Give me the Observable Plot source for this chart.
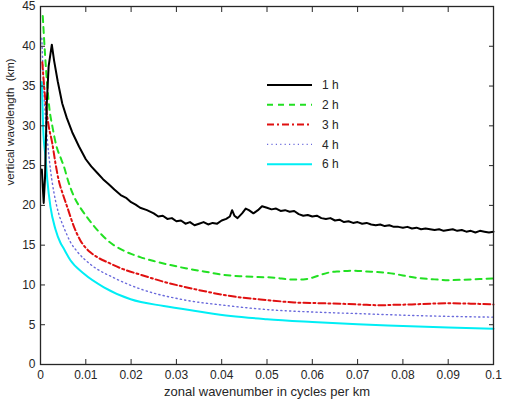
<!DOCTYPE html>
<html><head><meta charset="utf-8">
<script src="https://cdn.jsdelivr.net/npm/d3@7"></script>
<script src="https://cdn.jsdelivr.net/npm/@observablehq/plot@0.6"></script>
<style>
body{margin:0;background:#fff;}
#wrap{position:relative;width:515px;height:405px;}
#legend{position:absolute;left:0;top:0;}
</style>
</head><body><div id="wrap"></div>
<script>
const seriesNames = ["1 h","2 h","3 h","4 h","6 h"];
const seriesColors = ["#000000","#22e022","#e01010","#6b6bdc","#00eef5"];
const seriesDash = [null,"6,5","7,3,2,3","1.2,3.2",null];
const seriesWidth = [2,2,2,1.4,2];
const xLabel = "zonal wavenumber in cycles per km";
const yLabel = "vertical wavelength  (km)";

const k1h = [0.0003,0.0007,0.0010,0.0014,0.0018,0.0025,0.0030,0.0038,0.0048,0.0058,0.0070,0.0085,0.0100,0.0112,0.0125,0.0138,0.015,0.0163,0.0177,0.019,0.020,0.021,0.022,0.0235,0.025,0.026,0.027,0.028,0.029,0.030,0.031,0.032,0.033,0.034,0.035,0.036,0.037,0.038,0.039,0.040,0.041,0.0418,0.0423,0.0428,0.0435,0.0445,0.0453,0.046,0.047,0.048,0.0489,0.050,0.051,0.052,0.053,0.054,0.055,0.056,0.057,0.058,0.059,0.060,0.061,0.062,0.063,0.064,0.065,0.066,0.067,0.068,0.069,0.070,0.071,0.072,0.073,0.074,0.075,0.076,0.077,0.078,0.079,0.080,0.081,0.082,0.083,0.084,0.085,0.086,0.087,0.088,0.089,0.090,0.091,0.092,0.093,0.094,0.095,0.096,0.097,0.098,0.099,0.100];
const lam1h = [24.5,20.3,23.5,33,37.5,40.2,38.2,35.6,32.8,31.0,29.2,27.4,25.8,24.9,24.1,23.3,22.7,22.0,21.3,20.9,20.4,20.1,19.7,19.4,19.0,18.6,18.7,18.3,18.4,18.0,18.1,17.7,17.9,17.5,17.7,17.9,17.6,17.8,17.7,18.1,18.3,18.6,19.4,18.7,18.4,19.0,19.6,19.4,19.0,19.4,19.9,19.7,19.5,19.6,19.3,19.4,19.2,19.3,18.9,18.7,18.8,18.6,18.7,18.4,18.3,18.4,18.1,18.2,17.9,18.0,17.8,17.9,17.7,17.8,17.6,17.5,17.6,17.4,17.5,17.3,17.3,17.2,17.3,17.1,17.2,17.0,17.1,17.0,16.9,17.0,16.8,16.9,17.0,16.8,16.9,16.7,16.8,16.6,16.8,16.7,16.6,16.7];

const k2h = [0.0005,0.0010,0.0015,0.0020,0.0026,0.0035,0.0045,0.0051,0.0062,0.0074,0.0088,0.0103,0.0118,0.0132,0.015,0.0177,0.020,0.022,0.025,0.0287,0.032,0.036,0.040,0.044,0.048,0.052,0.055,0.058,0.060,0.062,0.064,0.066,0.069,0.072,0.075,0.078,0.080,0.083,0.087,0.090,0.095,0.100];
const lam2h = [43.8,39,35,32,30.0,27.5,25.9,25.0,22.9,21.1,19.7,18.5,17.4,16.5,15.5,14.5,13.9,13.5,13.0,12.5,12.1,11.7,11.3,11.1,11.0,10.9,10.7,10.7,10.9,11.3,11.6,11.7,11.8,11.7,11.6,11.4,11.2,10.9,10.7,10.6,10.7,10.8];

const k3h = [0.0004,0.0008,0.0013,0.0018,0.0026,0.0033,0.004,0.005,0.0059,0.0074,0.0088,0.011,0.0125,0.015,0.0177,0.022,0.0272,0.0346,0.042,0.050,0.056,0.062,0.068,0.072,0.075,0.078,0.082,0.086,0.090,0.095,0.100];
const lam3h = [38,35,32,30,27.8,25.3,23.2,21.3,19.8,17.3,15.6,14.1,13.5,12.8,12.1,11.3,10.4,9.4,8.6,8.1,7.8,7.7,7.6,7.5,7.45,7.5,7.55,7.65,7.7,7.65,7.55];

const k4h = [0.0003,0.0007,0.0011,0.0015,0.0022,0.003,0.004,0.0051,0.0066,0.0081,0.011,0.0162,0.022,0.031,0.042,0.050,0.060,0.070,0.080,0.090,0.100];
const lam4h = [41,35,31,28.3,24.5,21.5,19,17.3,15.4,14.2,12.6,10.9,9.5,8.2,7.35,6.9,6.6,6.4,6.2,6.05,5.95];

const k6h = [0.0003,0.0006,0.0011,0.0015,0.0022,0.0033,0.0044,0.0051,0.0066,0.0096,0.014,0.0199,0.0272,0.0346,0.042,0.050,0.060,0.070,0.080,0.090,0.100];
const lam6h = [35.5,29.5,26.1,23.2,19.8,17.0,15.3,14.6,13.1,11.4,9.7,8.2,7.35,6.7,6.1,5.7,5.35,5.05,4.85,4.65,4.5];

const xTicks = [0,0.01,0.02,0.03,0.04,0.05,0.06,0.07,0.08,0.09,0.1];
const xTickLabels = ["0","0.01","0.02","0.03","0.04","0.05","0.06","0.07","0.08","0.09","0.1"];
const yTicks = [0,5,10,15,20,25,30,35,40,45];

const ks = [k1h,k2h,k3h,k4h,k6h];
const lams = [lam1h,lam2h,lam3h,lam4h,lam6h];
const series = ks.map((k,i)=>k.map((x,j)=>({x, y: lams[i][j]})));

const font = "'Liberation Sans', Arial, sans-serif";
const ink = "#262626";
const lineMarks = series.map((d,i)=>Plot.line(d,{x:"x",y:"y",stroke:seriesColors[i],strokeWidth:seriesWidth[i],
  strokeDasharray:seriesDash[i]||undefined, curve: i===0?"linear":"monotone-x", strokeLinejoin:"round"}));

const blank = () => "";
const T = 5;
const chart = Plot.plot({
  width:515, height:405,
  marginLeft:40, marginRight:22, marginTop:6, marginBottom:41,
  style:{fontFamily:font, fontSize:"12px", color:ink, background:"#fff"},
  x:{domain:[0,0.1]},
  y:{domain:[0,45]},
  marks:[
    ...lineMarks.slice().reverse(),
    Plot.frame({stroke:ink, strokeWidth:1.3}),
    Plot.axisX({anchor:"bottom", ticks:xTicks, tickSize:T, dy:-T, tickFormat:blank, label:null, stroke:ink}),
    Plot.axisX({anchor:"top", ticks:xTicks, tickSize:T, dy:T, tickFormat:blank, label:null, stroke:ink}),
    Plot.axisY({anchor:"left", ticks:yTicks, tickSize:T, dx:T, tickFormat:blank, label:null, stroke:ink}),
    Plot.axisY({anchor:"right", ticks:yTicks, tickSize:T, dx:-T, tickFormat:blank, label:null, stroke:ink}),
    Plot.axisX({anchor:"bottom", ticks:xTicks, tickSize:0, tickPadding:6,
      tickFormat:(d)=>xTickLabels[xTicks.indexOf(d)], label:null}),
    Plot.axisY({anchor:"left", ticks:yTicks, tickSize:0, tickPadding:5, label:null}),
    Plot.text([xLabel], {text:d=>d, frameAnchor:"bottom", dy:31, fontSize:13, fill:ink}),
    Plot.text([yLabel], {text:d=>d, frameAnchor:"left", dx:-30, rotate:-90, fontSize:11.5, fill:ink})
  ]
});
const wrap = document.getElementById("wrap");
wrap.appendChild(chart);

// legend overlay
const lg = d3.select(wrap).append("svg").attr("id","legend").attr("width",515).attr("height",405);
const rowY0 = 85, rowStep = 19.8, lx1 = 267, lx2 = 312, tx = 322;
seriesNames.forEach((name,i)=>{
  const y = rowY0 + i*rowStep;
  lg.append("line").attr("x1",lx1).attr("x2",lx2).attr("y1",y).attr("y2",y)
    .attr("stroke",seriesColors[i]).attr("stroke-width",seriesWidth[i])
    .attr("stroke-dasharray",seriesDash[i]);
  lg.append("text").attr("x",tx).attr("y",y).attr("dy","0.35em")
    .attr("font-family",font).attr("font-size",12).attr("fill",ink).text(name);
});
</script></body></html>
